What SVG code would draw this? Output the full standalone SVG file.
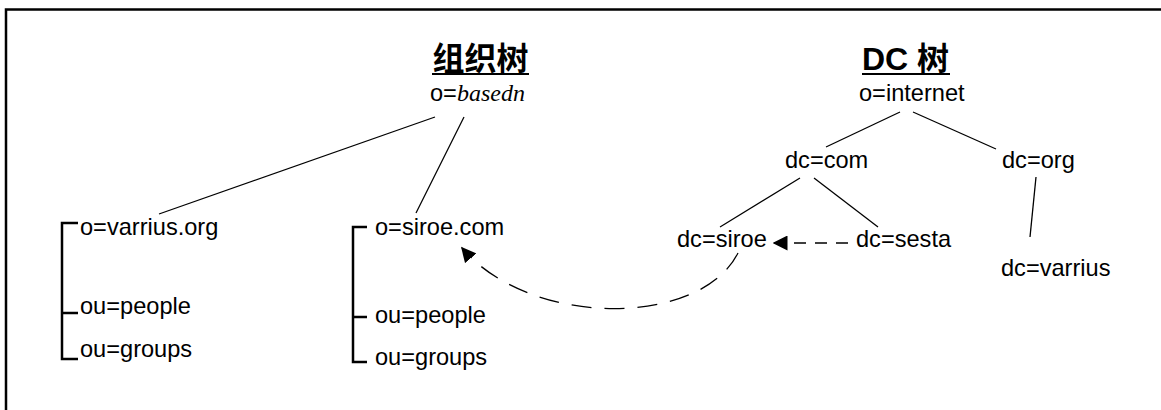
<svg xmlns="http://www.w3.org/2000/svg" width="1161" height="410" viewBox="0 0 1161 410">
<style>
.t{font-family:"Liberation Sans",Arial,sans-serif;font-size:23.6px;fill:#000}
.h{font-family:"Liberation Sans","Noto Sans CJK SC",sans-serif;font-size:32px;font-weight:bold;fill:#000}
.ln{stroke:#000;stroke-width:1.3;fill:none}
.br{stroke:#000;stroke-width:2.5;fill:none}
.d{stroke:#000;stroke-width:1.3;fill:none;stroke-dasharray:20 13}
</style>
<defs>
<marker id="ah" viewBox="0 0 10 10" refX="9" refY="5" markerWidth="15" markerHeight="15" markerUnits="userSpaceOnUse" orient="auto-start-reverse">
<path d="M0,0 L10,5 L0,10 z" fill="#000"/>
</marker>
</defs>
<rect width="1161" height="410" fill="#fff"/>
<path d="M6,412 V9.5 H1163" stroke="#000" stroke-width="2.5" fill="none"/>
<g id="title-org"><text class="h" x="480.5" y="70" text-anchor="middle">组织树</text><line x1="432" y1="74" x2="529" y2="74" stroke="#000" stroke-width="2"/></g>
<g id="title-dc"><text class="h" x="862" y="70">DC 树</text><line x1="862" y1="74" x2="950" y2="74" stroke="#000" stroke-width="2"/></g>
<g id="basedn"><text x="430" y="101"><tspan class="t" font-size="22">o=</tspan><tspan font-family="'Liberation Serif',serif" font-style="italic" font-size="24">basedn</tspan></text></g>
<g id="internet"><text class="t" x="859" y="101">o=internet</text></g>
<g id="dccom"><text class="t" x="785" y="168">dc=com</text></g>
<g id="dcorg"><text class="t" x="1002" y="168">dc=org</text></g>
<g id="dcsiroe"><text class="t" x="677" y="247">dc=siroe</text></g>
<g id="dcsesta"><text class="t" x="856" y="247">dc=sesta</text></g>
<g id="dcvarrius"><text class="t" x="1001" y="276">dc=varrius</text></g>
<g id="varrius-tree">
<path class="br" d="M78,223 H62 V359 H78 M62,313 H78"/>
<text class="t" x="80" y="235">o=varrius.org</text>
<text class="t" x="80" y="314">ou=people</text>
<text class="t" x="80" y="357">ou=groups</text>
</g>
<g id="siroe-tree">
<path class="br" d="M367,227 H353 V362 H367 M353,317 H367"/>
<text class="t" x="375" y="235">o=siroe.com</text>
<text class="t" x="375" y="323">ou=people</text>
<text class="t" x="375" y="365">ou=groups</text>
</g>
<g id="connectors">
<line class="ln" x1="435" y1="117" x2="159" y2="214"/>
<line class="ln" x1="464" y1="117" x2="416" y2="213"/>
<line class="ln" x1="900" y1="112" x2="826" y2="147"/>
<line class="ln" x1="913" y1="112" x2="996" y2="149"/>
<line class="ln" x1="800" y1="178" x2="720" y2="227"/>
<line class="ln" x1="814" y1="178" x2="878" y2="227"/>
<line class="ln" x1="1036" y1="177" x2="1030" y2="237"/>
<path d="M848,243 H774" stroke="#000" stroke-width="1.5" fill="none" stroke-dasharray="12 9" marker-end="url(#ah)"/>
<path class="d" d="M738,253 C700,328 530,328 462,248" marker-end="url(#ah)"/>
</g>
</svg>
